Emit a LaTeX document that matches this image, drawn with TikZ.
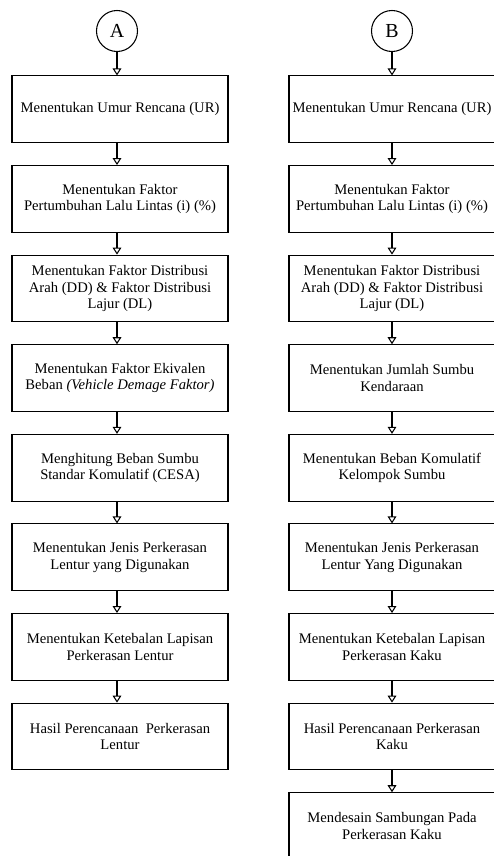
\documentclass[tikz,border=0pt]{standalone}
\usepackage{fontspec}
\setmainfont{Liberation Serif}
\usetikzlibrary{arrows.meta}

\begin{document}
\begin{tikzpicture}[x=0.3mm, y=-0.3mm, line width=0.9pt,
    >={Triangle[open, length=2.1mm, width=2.6mm]},
    langkah/.style={draw, rectangle, minimum height=20mm, align=center,
        inner sep=1mm, font=\fontsize{12.5}{14}\selectfont},
    kiri/.style={langkah, minimum width=64.8mm},
    kanan/.style={langkah, minimum width=61.8mm},
    tanda/.style={draw, circle, minimum size=12.3mm, inner sep=0pt,
        font=\fontsize{17}{17}\selectfont}]

    \useasboundingbox (0,0) rectangle (494,856);

    % --- Lingkaran penghubung A dan B ---
    \node[tanda] (A) at (117,31) {A};
    \node[tanda] (B) at (392,31) {B};

    % --- Kolom A: perkerasan lentur ---
    \node[kiri] (a1) at (120,109.3) {Menentukan Umur Rencana (UR)};
    \node[kiri] (a2) at (120,198.9) {Menentukan Faktor\\Pertumbuhan Lalu Lintas (i) (\%)};
    \node[kiri] (a3) at (120,288.5) {Menentukan Faktor Distribusi\\Arah (DD) \& Faktor Distribusi\\Lajur (DL)};
    \node[kiri] (a4) at (120,378.1) {Menentukan Faktor Ekivalen\\Beban \textit{(Vehicle Demage Faktor)}};
    \node[kiri] (a5) at (120,467.7) {Menghitung Beban Sumbu\\Standar Komulatif (CESA)};
    \node[kiri] (a6) at (120,557.3) {Menentukan Jenis Perkerasan\\Lentur yang Digunakan};
    \node[kiri] (a7) at (120,646.9) {Menentukan Ketebalan Lapisan\\Perkerasan Lentur};
    \node[kiri] (a8) at (120,736.5) {Hasil Perencanaan\ \ Perkerasan\\Lentur};

    % --- Kolom B: perkerasan kaku ---
    \node[kanan] (b1) at (392,109.3) {Menentukan Umur Rencana (UR)};
    \node[kanan] (b2) at (392,198.9) {Menentukan Faktor\\Pertumbuhan Lalu Lintas (i) (\%)};
    \node[kanan] (b3) at (392,288.5) {Menentukan Faktor Distribusi\\Arah (DD) \& Faktor Distribusi\\Lajur (DL)};
    \node[kanan] (b4) at (392,378.1) {Menentukan Jumlah Sumbu\\Kendaraan};
    \node[kanan] (b5) at (392,467.7) {Menentukan Beban Komulatif\\Kelompok Sumbu};
    \node[kanan] (b6) at (392,557.3) {Menentukan Jenis Perkerasan\\Lentur Yang Digunakan};
    \node[kanan] (b7) at (392,646.9) {Menentukan Ketebalan Lapisan\\Perkerasan Kaku};
    \node[kanan] (b8) at (392,736.5) {Hasil Perencanaan Perkerasan\\Kaku};
    \node[kanan] (b9) at (392,826.1) {Mendesain Sambungan Pada\\Perkerasan Kaku};

    % --- Panah ---
    \draw[->] (A) -- (A |- a1.north);
    \draw[->] (B) -- (B |- b1.north);
    \foreach \i/\j in {1/2,2/3,3/4,4/5,5/6,6/7,7/8} {
        \draw[->] (a\i.south -| A) -- (a\j.north -| A);
    }
    \foreach \i/\j in {1/2,2/3,3/4,4/5,5/6,6/7,7/8,8/9} {
        \draw[->] (b\i.south -| B) -- (b\j.north -| B);
    }

\end{tikzpicture}
\end{document}
